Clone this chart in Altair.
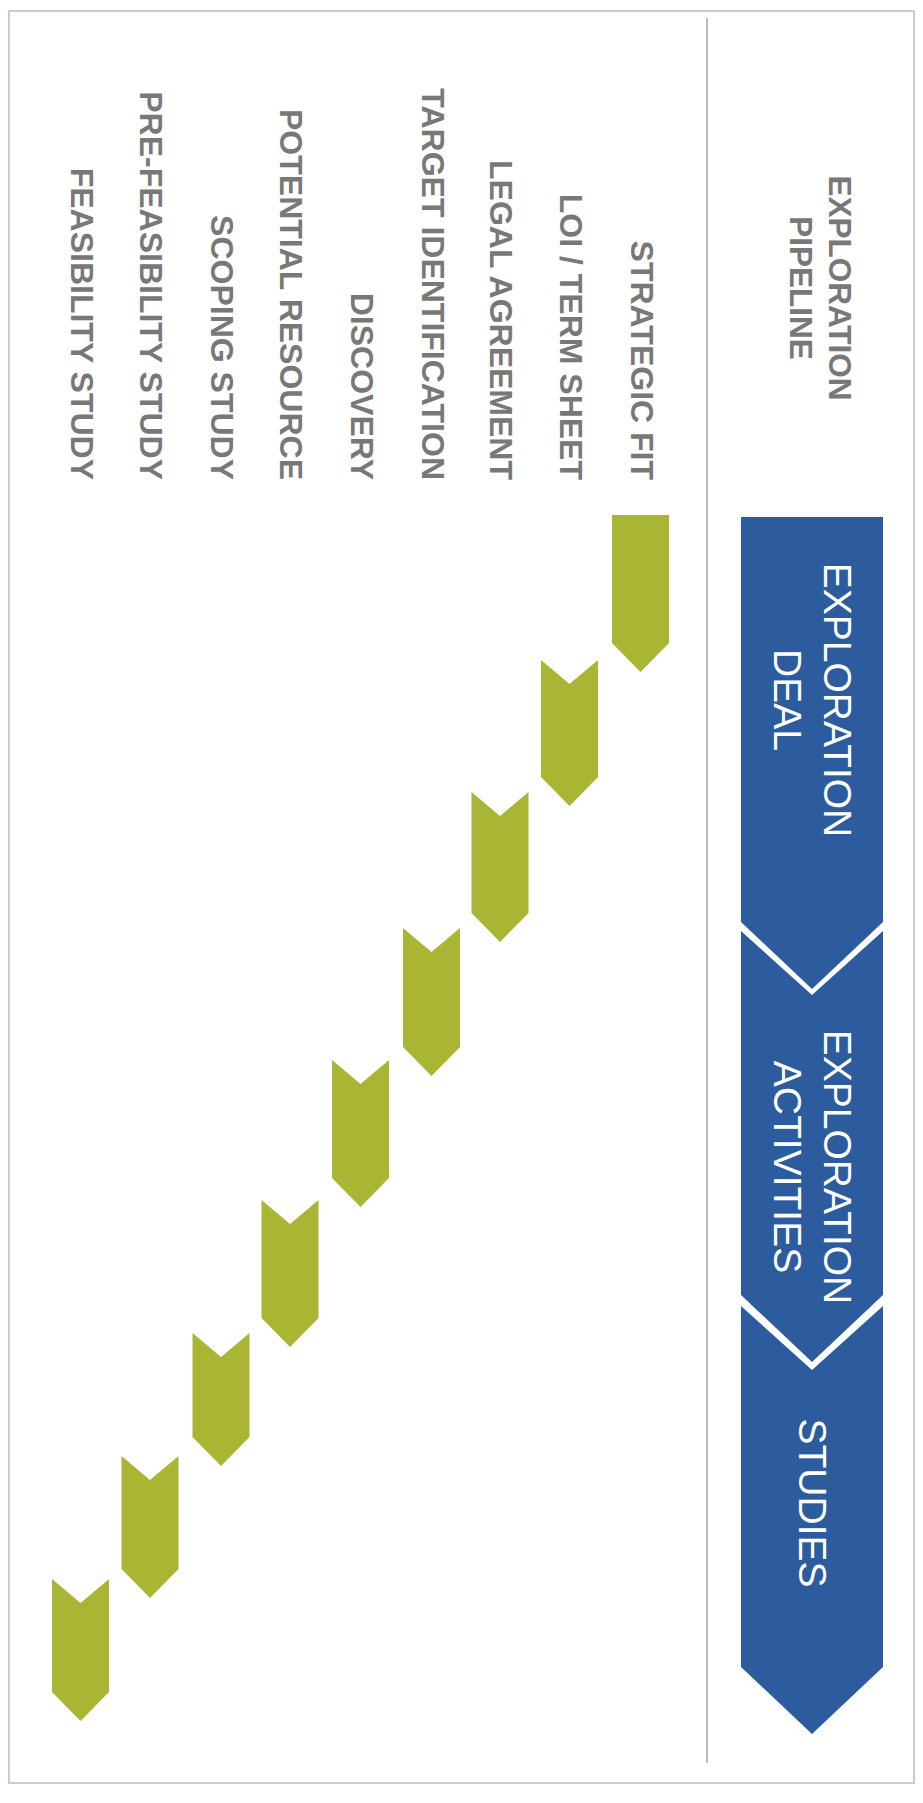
import altair as alt
import pandas as pd

# ---- data (page pixel units along each axis) ----
stages = ["STRATEGIC FIT", "LOI / TERM SHEET", "LEGAL AGREEMENT",
          "TARGET IDENTIFICATION", "DISCOVERY", "POTENTIAL RESOURCE",
          "SCOPING STUDY", "PRE-FEASIBILITY STUDY", "FEASIBILITY STUDY"]
stage_lane = [640.5, 569.5, 500, 431.5, 360.5, 290, 221, 150, 80.5]
stage_start = [515, 660, 792, 928, 1060, 1200, 1333, 1456, 1579]
stage_end = [643, 777, 913, 1047, 1178, 1318, 1437, 1569, 1692]
stage_label_end = [480] * 9

phases = ["EXPLORATION\nDEAL", "EXPLORATION\nACTIVITIES", "STUDIES"]
phase_start = [517, 931, 1306]
phase_end = [922, 1295, 1667]
phase_text_pos = [700, 1167, 1503]

header_text = ["EXPLORATION\nPIPELINE"]
header_pos = [288]

# ---- layout / style constants ----
X0, X1 = 8, 915
Y0, Y1 = 8, 1784
W, H = X1 - X0, Y1 - Y0
PHASE_LANE, PHASE_HALF, PHASE_NOTCH, PHASE_POINT = 812, 71, 64, 67
STAGE_HALF, STAGE_NOTCH, STAGE_POINT = 28.5, 24, 29
HEADER_LANE = 818
PHASE_LH, HEADER_LH = 50, 39
BLUE = "#2C5C9E"
GREEN = "#AAB534"
GRAY = "#787878"
FONT = "Liberation Sans, Arial, Helvetica, sans-serif"

xs = alt.Scale(domain=[X0, X1], nice=False, zero=False)
ys = alt.Scale(domain=[Y0, Y1], nice=False, zero=False, reverse=True)


def X(f):
    return alt.X(f, type="quantitative", scale=xs, axis=None)


def Y(f):
    return alt.Y(f, type="quantitative", scale=ys, axis=None, stack=False)


def first_line_lane(center, text, lh):
    # multi-line text is drawn from the first line; centre the whole block
    n = text.count("\n") + 1
    return center + (n - 1) * lh / 2 - 1


# chevron polygons (area: top boundary y, bottom boundary y2, piecewise linear in x)
def chevrons(lanes, starts, ends, half, notch, point, flat_first):
    rows = []
    for i, (c, s, e) in enumerate(zip(lanes, starts, ends)):
        n = 0 if (flat_first and i == 0) else notch
        for dx, top, bot in [(-half, s, e), (0, s + n, e + point), (half, s, e)]:
            rows.append({"id": i, "x": c + dx, "y": top, "y2": bot})
    return pd.DataFrame(rows)


green_df = chevrons(stage_lane, stage_start, stage_end,
                    STAGE_HALF, STAGE_NOTCH, STAGE_POINT, True)
blue_df = chevrons([PHASE_LANE] * len(phases), phase_start, phase_end,
                   PHASE_HALF, PHASE_NOTCH, PHASE_POINT, True)

green = alt.Chart(green_df).mark_area(orient="vertical", color=GREEN).encode(
    x=X("x"), y=Y("y"), y2="y2", detail="id:N")
blue = alt.Chart(blue_df).mark_area(orient="vertical", color=BLUE).encode(
    x=X("x"), y=Y("y"), y2="y2", detail="id:N")

labels_df = pd.DataFrame({"name": stages, "lane": stage_lane, "pos": stage_label_end})
labels = alt.Chart(labels_df).mark_text(
    angle=90, align="right", baseline="middle", font=FONT, fontSize=32,
    fontWeight="bold", color=GRAY).encode(x=X("lane"), y=Y("pos"), text="name:N")

phase_df = pd.DataFrame({
    "name": phases,
    "lane": [first_line_lane(PHASE_LANE, p, PHASE_LH) for p in phases],
    "pos": phase_text_pos})
phase_text = alt.Chart(phase_df).mark_text(
    angle=90, align="center", baseline="middle", font=FONT, fontSize=39,
    lineBreak="\n", lineHeight=PHASE_LH, color="white").encode(
    x=X("lane"), y=Y("pos"), text="name:N")

header_df = pd.DataFrame({
    "name": header_text,
    "lane": [first_line_lane(HEADER_LANE, h, HEADER_LH) + 1 for h in header_text],
    "pos": header_pos})
header = alt.Chart(header_df).mark_text(
    angle=90, align="center", baseline="middle", font=FONT, fontSize=31.5,
    fontWeight="bold", lineBreak="\n", lineHeight=HEADER_LH, color=GRAY).encode(
    x=X("lane"), y=Y("pos"), text="name:N")

frame_df = pd.DataFrame({"x": [9], "x2": [914], "y": [11], "y2": [1783]})
frame = alt.Chart(frame_df).mark_rect(
    fillOpacity=0, stroke="#CFCBCA", strokeWidth=2).encode(
    x=X("x"), x2="x2", y=Y("y"), y2="y2")

divider_df = pd.DataFrame({"x": [707], "y": [18], "y2": [1763]})
divider = alt.Chart(divider_df).mark_rule(color="#A8A3A1", strokeWidth=1.5).encode(
    x=X("x"), y=Y("y"), y2="y2")

chart = alt.layer(frame, divider, blue, green, phase_text, labels, header).properties(
    width=W, height=H, padding=0, autosize="none", background="white"
).configure_view(strokeWidth=0)

chart.save("out.html", embed_options={"renderer": "svg", "actions": False})
